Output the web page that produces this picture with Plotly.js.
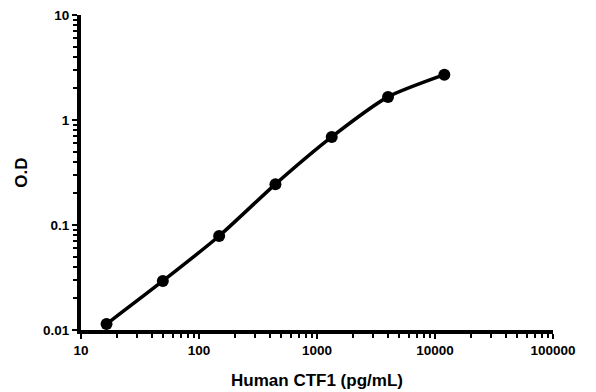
<!DOCTYPE html>
<html><head><meta charset="utf-8">
<script src="https://cdn.plot.ly/plotly-3.0.1.min.js"></script>
<style>html,body{margin:0;padding:0;background:#fff;}#chart{width:596px;height:392px;}</style>
</head><body><div id="chart"></div>
<script>
const concentration = [16.46, 49.38, 148.1, 444.4, 1333, 4000, 12000];
const od = [0.0114, 0.0293, 0.0786, 0.245, 0.69, 1.66, 2.70];
const xTickVals = [10, 100, 1000, 10000, 100000];
const xTickText = ['10', '100', '1000', '10000', '100000'];
const yTickVals = [0.01, 0.1, 1, 10];
const yTickText = ['0.01', '0.1', '1', '10'];

const bold = a => a.map(t => '<b>' + t + '</b>');
const font = {family: '"Liberation Sans", Arial, sans-serif', color: '#000'};
Plotly.newPlot('chart', [{
  x: concentration, y: od, type: 'scatter', mode: 'lines+markers',
  line: {color: '#000', width: 3.5, shape: 'spline', smoothing: 0.6},
  marker: {color: '#000', size: 12},
  cliponaxis: false
}], {
  width: 596, height: 392,
  margin: {l: 81, r: 43, t: 15, b: 62},
  paper_bgcolor: '#fff', plot_bgcolor: '#fff',
  showlegend: false,
  font: font,
  xaxis: {
    type: 'log', range: [1, 5], tickvals: xTickVals, ticktext: bold(xTickText),
    showgrid: false, zeroline: false, showline: true, linecolor: '#000', linewidth: 4,
    ticks: 'outside', ticklen: 5, tickwidth: 2, tickcolor: '#000',
    minor: {ticks: 'outside', ticklen: 4, tickwidth: 2, tickcolor: '#000', dtick: 'D1', showgrid: false},
    tickfont: {family: font.family, size: 13.5, color: '#000'},
    title: {text: '<b>Human CTF1 (pg/mL)</b>', font: {family: font.family, size: 17, color: '#000'}, standoff: 18}
  },
  yaxis: {
    type: 'log', range: [-2, 1], tickvals: yTickVals, ticktext: bold(yTickText),
    showgrid: false, zeroline: false, showline: true, linecolor: '#000', linewidth: 4,
    ticks: 'outside', ticklen: 5, tickwidth: 2, tickcolor: '#000',
    minor: {ticks: 'outside', ticklen: 4, tickwidth: 2, tickcolor: '#000', dtick: 'D1', showgrid: false},
    tickfont: {family: font.family, size: 13.5, color: '#000'},
    title: {text: '<b>O.D</b>', font: {family: font.family, size: 17, color: '#000'}, standoff: 12}
  }
}, {staticPlot: true, displayModeBar: false});
</script></body></html>
